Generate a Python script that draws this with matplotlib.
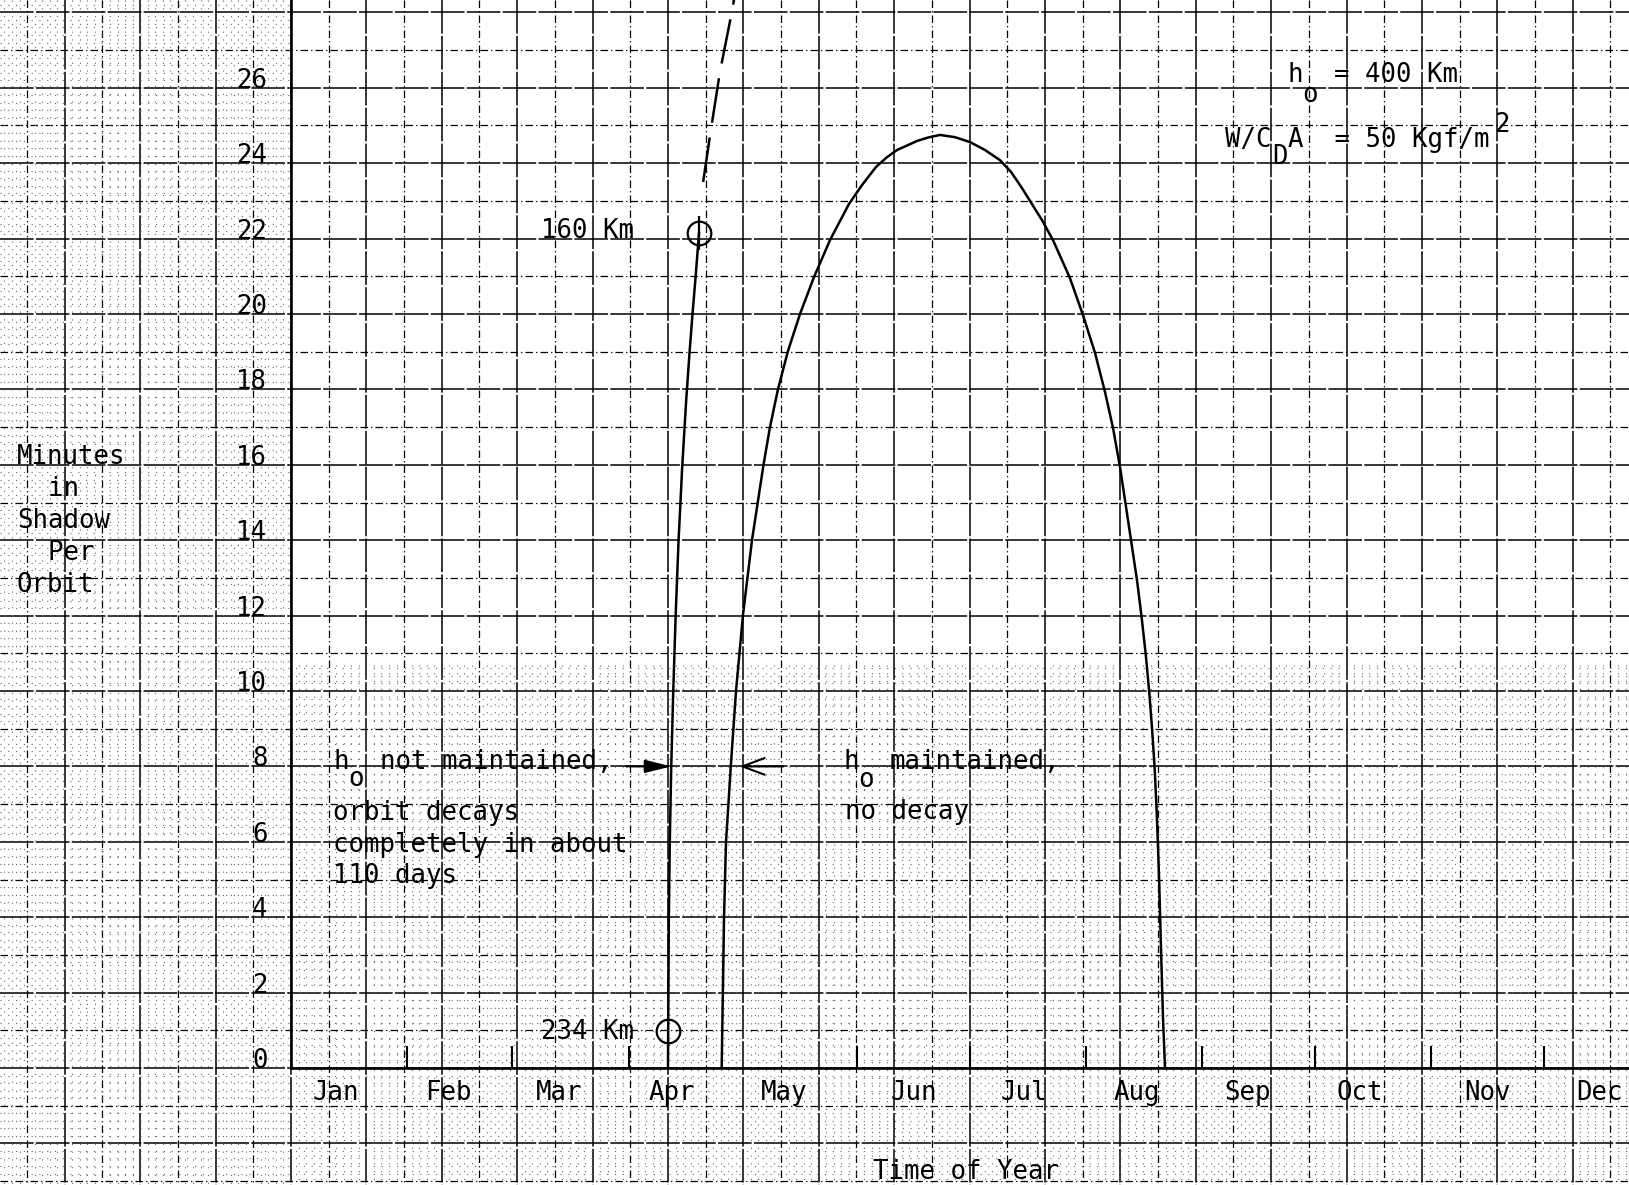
import matplotlib
matplotlib.use('Agg')
import matplotlib.pyplot as plt
import numpy as np

# ---------------- data ----------------
months = ['Jan', 'Feb', 'Mar', 'Apr', 'May', 'Jun', 'Jul', 'Aug', 'Sep', 'Oct', 'Nov', 'Dec']
month_label_days = [12, 42, 71.5, 101.5, 131.5, 166, 195.5, 225.5, 255, 285, 319, 349]
month_tick_days = [31, 59, 90, 151, 181, 212, 243, 273, 304, 334]   # no tick at May 1 in original
y_ticks = [0, 2, 4, 6, 8, 10, 12, 14, 16, 18, 20, 22, 24, 26]

# h0 maintained, no decay  (day of year, minutes in shadow per orbit)
maint_day = [114.85, 115.47, 116.0, 117.25, 118.67, 120.53, 122.93, 126.0, 127.73, 129.87,
             132.53, 135.73, 139.47, 143.73, 148.8, 152.27, 156.0, 158.93, 161.6, 164.53,
             166.93, 169.87, 173.07, 177.07, 181.07, 185.07, 189.07, 192.0, 194.93, 200.27,
             203.2, 207.73, 211.2, 214.4, 217.07, 219.2, 221.07, 223.6, 225.6, 226.85,
             227.95, 228.88, 229.68, 230.29, 230.8, 231.17, 231.52, 231.84, 232.53, 233.07]
maint_min = [0.0, 3.98, 5.99, 7.96, 10.0, 12.02, 14.0, 16.0, 17.0, 18.01,
             19.02, 20.0, 20.98, 21.96, 22.92, 23.42, 23.9, 24.16, 24.35, 24.48,
             24.59, 24.68, 24.75, 24.69, 24.56, 24.35, 24.08, 23.77, 23.34, 22.49,
             21.96, 20.95, 19.97, 18.97, 17.93, 16.98, 15.94, 14.27, 12.94, 11.94,
             10.95, 9.95, 8.91, 7.98, 6.92, 5.97, 4.91, 3.74, 1.33, 0.0]

# h0 not maintained, orbit decays
decay_day = [100.53, 100.75, 101.01, 101.39, 101.92, 102.56, 103.33, 104.32, 105.39,
             106.27, 107.07, 107.89, 108.8]
decay_min = [0.0, 3.98, 5.99, 7.96, 9.95, 11.96, 13.95, 15.94, 17.72,
             18.97, 20.0, 20.98, 22.15]
decay_ext_day = [109.9, 111.9, 114.4, 117.5, 118.6]
decay_ext_min = [23.5, 24.84, 26.43, 27.98, 28.6]

marker_day = [100.53, 108.8]
marker_min = [0.98, 22.15]
marker_text = ['234 Km', '160 Km']

# ---------------- figure ----------------
W, H = 1629, 1185
DPI = 100
fig = plt.figure(figsize=(W / DPI, H / DPI), dpi=DPI)
fig.patch.set_facecolor('white')

X0, Y0 = 291.0, 1068.0        # pixel position of origin
STEP = 37.7                   # pixels per minute (graph paper cell)
PX_PER_DAY = 3.75

FONT = 'DejaVu Sans Mono'
FS = 18.5

# ---- graph paper background (pixel coordinates) ----
bg = fig.add_axes([0, 0, 1, 1], zorder=0)
bg.set_xlim(0, W)
bg.set_ylim(H, 0)
bg.axis('off')

major_solid = [(0, (22, 1.5))]
major_dash = [(0, (6, 2.5, 1, 2.5))]
for k in range(-8, 37):
    x = X0 + STEP * k
    if x < 0 or x > W:
        continue
    if k % 2 == 0:
        bg.vlines(x, 0, H, colors='k', lw=1.1, linestyles=major_solid)
    else:
        bg.vlines(x, 0, H, colors='k', lw=0.9, linestyles=major_dash)
for j in range(-4, 30):
    y = Y0 - STEP * j
    if y < 0 or y > H:
        continue
    if j % 2 == 0:
        bg.hlines(y, 0, W, colors='k', lw=1.1, linestyles=major_solid)
    else:
        bg.hlines(y, 0, W, colors='k', lw=0.9, linestyles=major_dash)

# fine dotted sub-grid (denser in lower band and left strip)
sub = STEP / 5.0
fine_style = [(0, (1, 6))]
FC = '0.4'
YA = 665
for m in range(-25, 150):
    if m % 5 == 0:
        continue
    y = Y0 - sub * m
    if y < 0 or y > H:
        continue
    if y >= YA:
        bg.hlines(y, 0, W, colors=FC, lw=0.8, linestyles=fine_style)
    else:
        bg.hlines(y, 0, X0, colors=FC, lw=0.8, linestyles=fine_style)
for m in range(-40, 180):
    if m % 5 == 0:
        continue
    x = X0 + sub * m
    if x < 0 or x > W:
        continue
    if x <= X0:
        bg.vlines(x, 0, H, colors=FC, lw=0.8, linestyles=fine_style)
    else:
        bg.vlines(x, YA, H, colors=FC, lw=0.8, linestyles=fine_style)

# ---- main axes ----
ax = fig.add_axes([X0 / W, (H - Y0) / H, (W - X0) / W, Y0 / H], zorder=2)
ax.patch.set_alpha(0)
ax.set_xlim(0, (W - X0) / PX_PER_DAY)
ax.set_ylim(0, Y0 / STEP)
for s in ['top', 'right']:
    ax.spines[s].set_visible(False)
for s in ['left', 'bottom']:
    ax.spines[s].set_linewidth(1.9)
    ax.spines[s].set_color('k')

ax.set_xticks(month_tick_days)
ax.set_xticklabels([])
ax.tick_params(axis='x', which='major', direction='in', length=16, width=1.5, color='k')
ax.set_xticks(month_label_days, months, minor=True, family=FONT, fontsize=FS)
ax.tick_params(axis='x', which='minor', length=0, pad=9)

ax.set_yticks(y_ticks, [str(v) for v in y_ticks], family=FONT, fontsize=FS, va='baseline')
ax.tick_params(axis='y', which='major', length=0, pad=17)

# curves
ax.plot(maint_day, maint_min, color='k', lw=1.8, solid_joinstyle='round')
ax.plot(decay_day, decay_min, color='k', lw=1.8, solid_joinstyle='round')
ax.plot(decay_ext_day, decay_ext_min, color='k', lw=1.8, linestyle=(0, (18, 6)))
ax.plot(marker_day, marker_min, linestyle='none', marker='o', markersize=17,
        markerfacecolor='none', markeredgecolor='k', markeredgewidth=1.6)
ax.plot(marker_day[1:], marker_min[1:], linestyle='none', marker='|', markersize=24,
        markeredgecolor='k', markeredgewidth=1.6)

# arrows at 8 minutes
ya = 8.0
x_dec = float(np.interp(ya, decay_min, decay_day))
x_mnt = float(np.interp(ya, maint_min[:10], maint_day[:10]))
ax.annotate('', xy=(x_dec, ya), xytext=(x_dec - 12, ya),
            arrowprops=dict(arrowstyle='-|>,head_length=0.8,head_width=0.2',
                            color='k', lw=1.5, mutation_scale=20, shrinkA=0, shrinkB=0))
ax.annotate('', xy=(x_mnt + 2.3, ya), xytext=(x_mnt + 14, ya),
            arrowprops=dict(arrowstyle='->,head_length=0.8,head_width=0.3',
                            color='k', lw=1.5, mutation_scale=20, shrinkA=0, shrinkB=0))


def ftxt(xp, yp, s, ha='left', va='center', **kw):
    fig.text(xp / W, 1 - yp / H, s, ha=ha, va=va, family=FONT, fontsize=FS,
             color='k', zorder=5, **kw)


CW = 15.7  # typewriter character width in pixels

# y-axis title
ftxt(17, 521, 'Minutes\n  in\nShadow\n  Per\nOrbit', linespacing=1.3)
# x-axis title
ftxt(873, 1172, 'Time of Year')

# marker labels
ftxt(634, 231, marker_text[1], ha='right')
ftxt(634, 1032, marker_text[0], ha='right')

# left annotation
ftxt(333, 762, 'h')
ftxt(333 + CW, 779, 'o')
ftxt(333 + 3 * CW, 762, 'not maintained,')
ftxt(333, 813, 'orbit decays')
ftxt(333, 845, 'completely in about')
ftxt(333, 876, '110 days')

# right annotation
ftxt(843, 762, 'h')
ftxt(843 + CW, 780, 'o')
ftxt(843 + 3 * CW, 762, 'maintained,')
ftxt(845, 812, 'no decay')

# parameters (top right)
ftxt(1287, 75, 'h')
ftxt(1287 + CW, 95, 'o')
ftxt(1287 + 3 * CW, 75, '= 400 Km')
ftxt(1225, 140, 'W/C')
ftxt(1225 + 3 * CW, 157, 'D')
ftxt(1225 + 4 * CW, 140, 'A  = 50 Kgf/m')
ftxt(1225 + 17 * CW + 2, 125, '2')

fig.savefig('out.png', dpi=DPI, facecolor='white')
